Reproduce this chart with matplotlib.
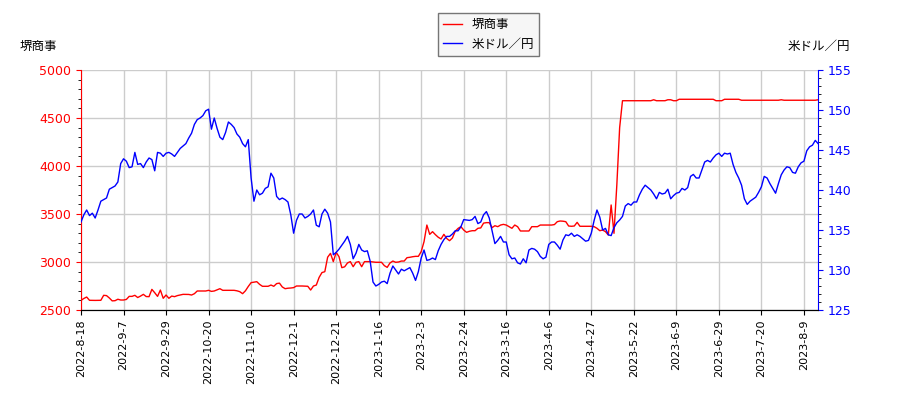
import matplotlib
matplotlib.use('Agg')
import matplotlib.pyplot as plt
from matplotlib.ticker import MultipleLocator

plt.rcParams['font.family'] = ['DejaVu Sans', 'Noto Sans CJK JP']

# x tick labels, one every 15 trading days
tick_labels = ['2022-8-18', '2022-9-7', '2022-9-29', '2022-10-20', '2022-11-10',
               '2022-12-1', '2022-12-21', '2023-1-16', '2023-2-3', '2023-2-24',
               '2023-3-16', '2023-4-6', '2023-4-27', '2023-5-22', '2023-6-9',
               '2023-6-29', '2023-7-20', '2023-8-9']

# 堺商事 price (yen)
sakai = [
    2600, 2620, 2635, 2601, 2600, 2600, 2600, 2601, 2653, 2650,
    2625, 2595, 2597, 2612, 2604, 2604, 2610, 2642, 2642, 2653,
    2630, 2645, 2663, 2640, 2639, 2715, 2680, 2642, 2708, 2622,
    2656, 2622, 2645, 2639, 2650, 2656, 2663, 2663, 2662, 2656,
    2670, 2698, 2698, 2698, 2698, 2705, 2694, 2698, 2710, 2722,
    2705, 2705, 2705, 2705, 2705, 2700, 2691, 2670, 2700, 2745,
    2785, 2790, 2795, 2767, 2747, 2747, 2747, 2760, 2747, 2775,
    2780, 2740, 2722, 2727, 2729, 2733, 2750, 2750, 2750, 2748,
    2747, 2708, 2750, 2760, 2840, 2890, 2899, 3050, 3090, 3004,
    3100, 3056, 2941, 2950, 2990, 3004, 2951, 2997, 3004, 2951,
    3004, 3004, 3004, 3000, 2997, 2997, 2997, 2962, 2944, 2990,
    3010, 2997, 3000, 3010, 3010, 3045, 3049, 3055, 3059, 3059,
    3108, 3212, 3385, 3288, 3316, 3285, 3258, 3240, 3288, 3245,
    3222, 3250, 3320, 3350, 3368, 3333, 3309, 3320, 3326, 3326,
    3351, 3355, 3405, 3410, 3410, 3358, 3378, 3368, 3385, 3392,
    3385, 3368, 3351, 3385, 3368, 3323, 3323, 3323, 3323, 3368,
    3368, 3368, 3385, 3385, 3385, 3385, 3385, 3390, 3420, 3427,
    3425, 3420, 3375, 3372, 3375, 3413, 3372, 3372, 3372, 3372,
    3372, 3368, 3351, 3326, 3333, 3316, 3281, 3594, 3299, 3800,
    4400, 4680, 4680, 4680, 4680, 4680, 4680, 4680, 4680, 4680,
    4680, 4680, 4690, 4680, 4680, 4680, 4680, 4690, 4690, 4680,
    4680, 4695, 4695, 4695, 4695, 4695, 4695, 4695, 4695, 4695,
    4695, 4695, 4695, 4695, 4680, 4680, 4680, 4695, 4695, 4695,
    4695, 4695, 4695, 4685, 4685, 4685, 4685, 4685, 4685, 4685,
    4685, 4685, 4685, 4685, 4685, 4685, 4685, 4690, 4685, 4685,
    4685, 4685, 4685, 4685, 4685, 4685, 4685, 4685, 4685, 4685,
    4690,
]

# 米ドル／円
usdjpy = [
    136.0, 136.9, 137.5, 136.8, 137.1, 136.5, 137.5, 138.6, 138.8, 139.0,
    140.1, 140.3, 140.5, 141.0, 143.3, 143.9, 143.6, 142.8, 142.9, 144.7,
    143.2, 143.3, 142.8, 143.5, 144.0, 143.8, 142.4, 144.7, 144.6, 144.2,
    144.6, 144.7, 144.5, 144.2, 144.7, 145.2, 145.5, 145.8, 146.5, 147.1,
    148.2, 148.8, 149.0, 149.3, 149.9, 150.1, 147.6, 149.0, 147.7, 146.6,
    146.3, 147.2, 148.5, 148.2, 147.8, 147.0, 146.6, 145.8, 145.4, 146.3,
    141.5, 138.6, 140.0, 139.4, 139.6, 140.2, 140.4, 142.1, 141.5, 139.2,
    138.8, 139.0, 138.8, 138.5, 136.9, 134.6, 136.2, 137.0, 137.0, 136.5,
    136.7, 137.0, 137.5, 135.6, 135.4, 137.0, 137.6, 137.1, 136.0, 131.9,
    132.2, 132.6, 133.1, 133.6, 134.2, 133.2, 131.4, 132.1, 133.2, 132.5,
    132.3, 132.4, 131.1, 128.5, 128.0, 128.2, 128.5, 128.6, 128.3, 129.6,
    130.5, 130.0, 129.5, 130.1, 129.9, 130.1, 130.3, 129.6, 128.7, 129.8,
    131.5, 132.5, 131.2, 131.3, 131.5, 131.3, 132.4, 133.2, 133.8, 134.2,
    134.2, 134.5, 134.9, 134.9, 135.4, 136.3, 136.25, 136.2, 136.3, 136.7,
    135.8, 136.0, 136.9, 137.3, 136.5, 134.9, 133.3, 133.7, 134.2, 133.5,
    133.5, 131.9, 131.4, 131.5, 130.9, 130.75, 131.4, 130.9, 132.5, 132.7,
    132.6, 132.3, 131.7, 131.4, 131.6, 133.2, 133.5, 133.5, 133.1, 132.6,
    133.75, 134.4, 134.3, 134.6, 134.2, 134.4, 134.2, 133.9, 133.6, 133.7,
    134.6, 136.2, 137.5, 136.6, 135.0, 135.2, 134.4, 134.3, 135.3, 135.9,
    136.25, 136.7, 138.0, 138.3, 138.1, 138.5, 138.5, 139.4, 140.1, 140.6,
    140.3, 140.0, 139.5, 138.9, 139.7, 139.5, 139.6, 140.1, 138.9, 139.3,
    139.6, 139.7, 140.2, 140.0, 140.3, 141.7, 141.95, 141.5, 141.5, 142.5,
    143.5, 143.7, 143.5, 144.0, 144.4, 144.6, 144.2, 144.6, 144.5, 144.6,
    143.2, 142.2, 141.5, 140.6, 138.9, 138.2, 138.6, 138.85, 139.1, 139.7,
    140.4, 141.7, 141.5, 140.8, 140.2, 139.6, 140.8, 141.9, 142.5, 142.9,
    142.8, 142.2, 142.1, 142.9, 143.4, 143.6, 144.9, 145.4, 145.6, 146.2,
    145.8,
]

x = list(range(len(sakai)))
cjk = ['Noto Sans CJK JP', 'DejaVu Sans']

fig = plt.figure(figsize=(9, 4), dpi=100)
ax = fig.add_axes([0.09, 0.225, 0.819, 0.6])
ax2 = ax.twinx()

l1, = ax.plot(x, sakai, color='red', lw=1)
l2, = ax2.plot(list(range(len(usdjpy))), usdjpy, color='blue', lw=1)

ax.set_xlim(0, len(sakai) - 1)
ax.set_ylim(2500, 5000)
ax2.set_ylim(125, 155)
ax.yaxis.set_major_locator(MultipleLocator(500))
ax.yaxis.set_minor_locator(MultipleLocator(100))
ax2.yaxis.set_major_locator(MultipleLocator(5))
ax2.yaxis.set_minor_locator(MultipleLocator(1))

ax.set_xticks(range(0, 15 * len(tick_labels), 15))
ax.set_xticklabels(tick_labels, rotation=90, fontsize=8)
ax.grid(True, color='#cccccc', lw=1)
ax.set_axisbelow(True)

ax.tick_params(axis='y', colors='red', labelsize=9)
ax2.tick_params(axis='y', colors='blue', labelsize=9)
ax.spines['left'].set_color('red')
ax2.spines['right'].set_color('blue')
ax2.spines['left'].set_visible(False)
for a in (ax, ax2):
    a.spines['top'].set_visible(False)
ax.spines['right'].set_visible(False)

fig.text(0.022, 0.875, '堺商事', fontsize=9, family=cjk)
fig.text(0.945, 0.875, '米ドル／円', fontsize=9, ha='right', family=cjk)

leg = fig.legend([l1, l2], ['堺商事', '米ドル／円'], loc='upper center',
                 bbox_to_anchor=(0.543, 0.982), fancybox=False, handlelength=1.5,
                 prop={'family': cjk, 'size': 9})
leg.get_frame().set_edgecolor('#555555')
leg.get_frame().set_facecolor('#f4f4f4')

fig.savefig('out.png', dpi=100)
